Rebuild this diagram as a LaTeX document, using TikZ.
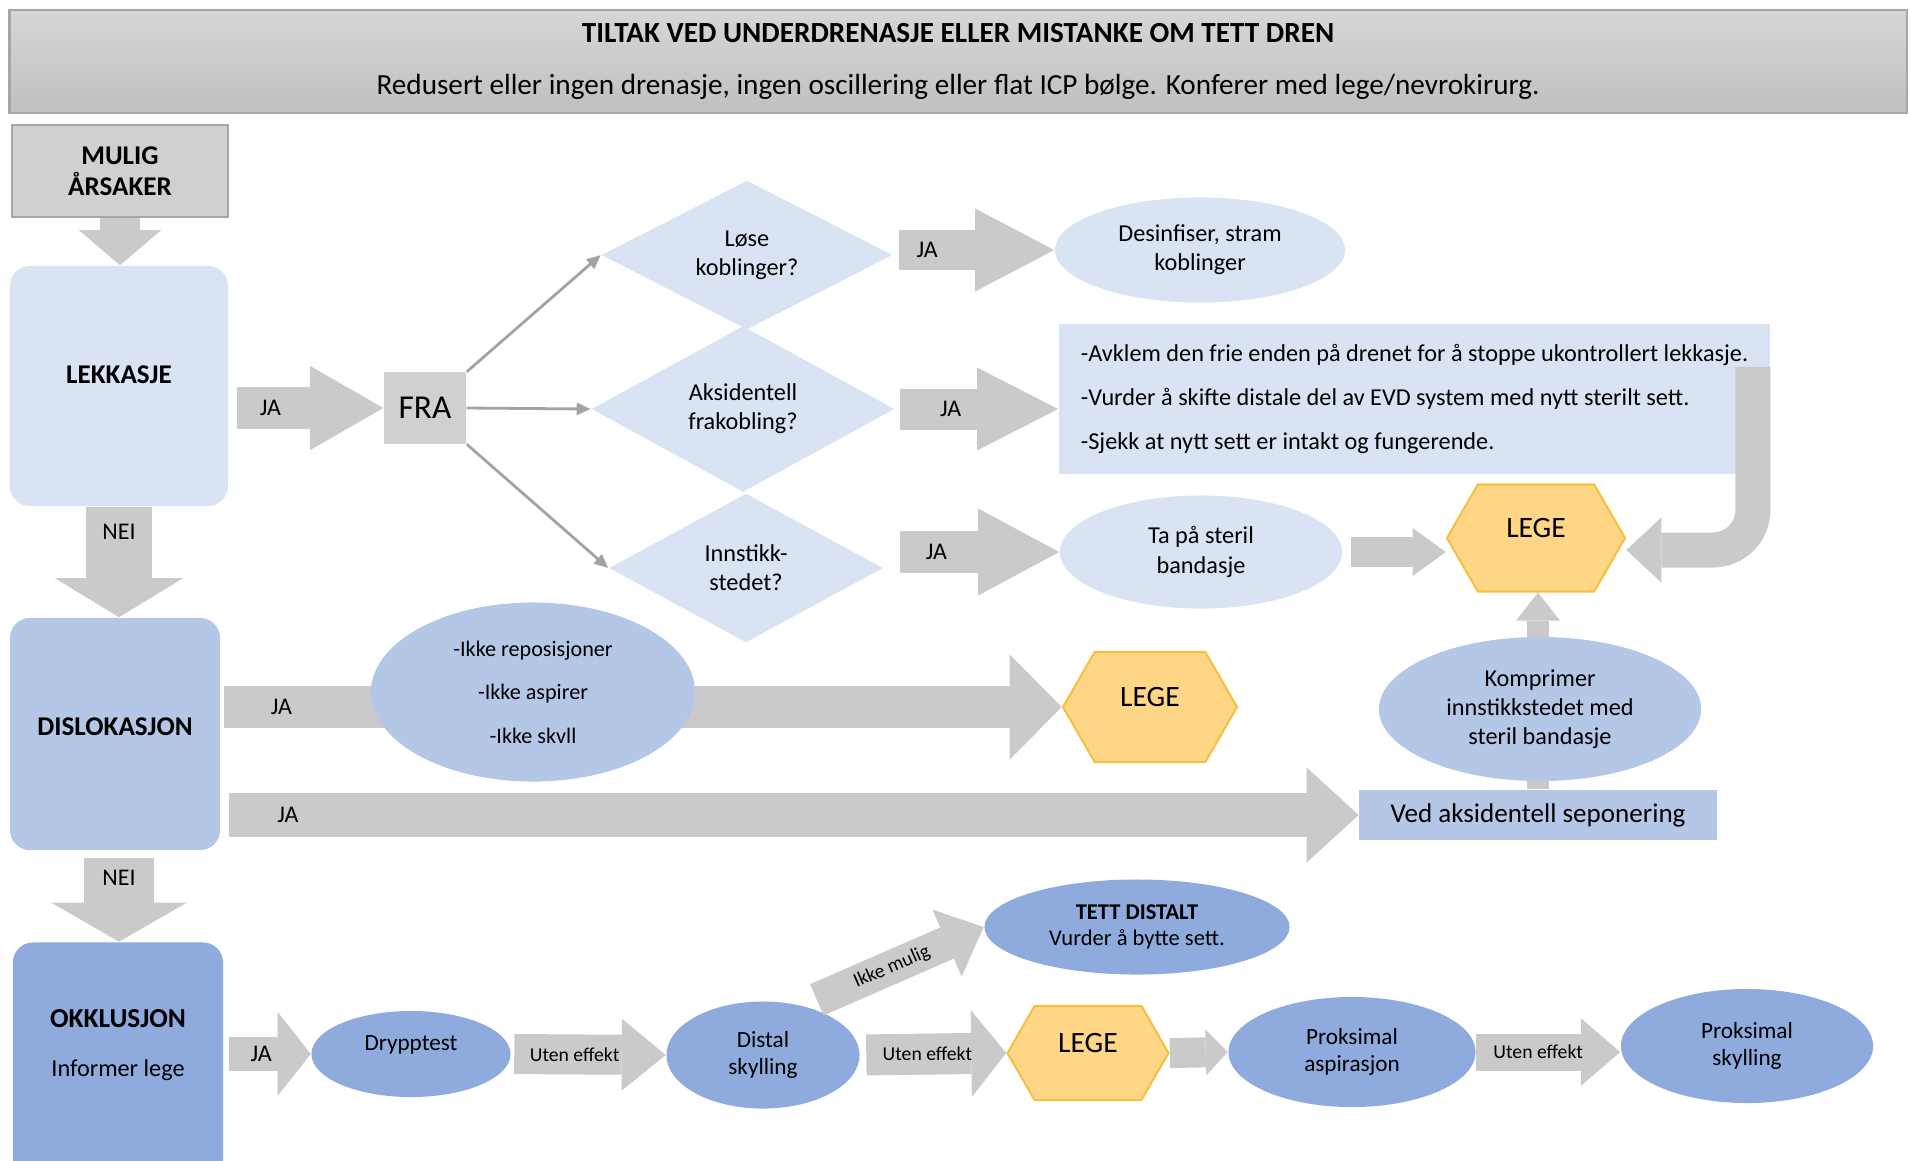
\documentclass[tikz,border=0pt]{standalone}
\usepackage{fontspec}
\setmainfont{Carlito}
\usetikzlibrary{shapes.geometric,shapes.symbols,arrows.meta}

\definecolor{lysbla}{HTML}{DAE3F3}
\definecolor{midbla}{HTML}{B4C7E7}
\definecolor{darkbla}{HTML}{8FAADC}
\definecolor{pilgra}{HTML}{CACACA}
\definecolor{boksgra}{HTML}{D0D0D0}
\definecolor{kantgra}{HTML}{A6A6A6}
\definecolor{tynngra}{HTML}{A3A3A3}
\definecolor{legefyll}{HTML}{FFD685}
\definecolor{legekant}{HTML}{F4C145}

\tikzset{
  txt/.style={font=\fontsize{6.9}{8.3}\selectfont, align=center},
  boldtxt/.style={font=\fontsize{7.7}{8.9}\selectfont\bfseries, align=center},
  jatxt/.style={font=\fontsize{6.8}{8}\selectfont},
  smalltxt/.style={font=\fontsize{5.6}{6.7}\selectfont},
  bottomtxt/.style={font=\fontsize{6.6}{7.6}\selectfont, align=center},
  graybox/.style={fill=boksgra, draw=kantgra, line width=0.6pt},
  causebox/.style={rounded corners=2mm, minimum width=21.4mm, boldtxt},
  decision/.style={diamond, aspect=2, fill=lysbla, txt},
  oval/.style={ellipse, txt},
  hexa/.style={signal, signal to=east and west, signal pointer angle=120, text depth=2mm,
    fill=legefyll, draw=legekant, line width=0.6pt, font=\fontsize{8.4}{10}\selectfont},
  bigarrow/.style n args={3}{draw=pilgra, line width=#1,
    -{Triangle[length=#2, width=#3, line width=0pt]}},
  thinarrow/.style={draw=tynngra, line width=0.8pt, -{Triangle[length=1.4mm, width=1.2mm]}}
}

\begin{document}
\begin{tikzpicture}[x=0.01cm, y=-0.01cm, every node/.style={inner sep=0pt, text=black}]
\useasboundingbox (0,0) rectangle (1910,1160);

% Header
\node[draw=kantgra, line width=0.6pt, top color={rgb,255:red,214;green,214;blue,214},
  bottom color={rgb,255:red,192;green,192;blue,192},
  minimum width=189.6mm, minimum height=10.3mm] (hode) at (958,61.5) {};
\node[font=\fontsize{8.3}{10}\selectfont\bfseries] (tittel) at (958,33) {TILTAK VED UNDERDRENASJE ELLER MISTANKE OM TETT DREN};
\node[font=\fontsize{8.3}{10}\selectfont] (undertittel) at (958,87) {Redusert eller ingen drenasje, ingen oscillering eller flat ICP bølge. Konferer med lege/nevrokirurg.};

% Causes
\node[graybox, boldtxt, minimum width=21.6mm, minimum height=9.2mm] (mulig) at (120,171) {MULIG\\ÅRSAKER};
\node[causebox, fill=lysbla, minimum width=21.8mm, minimum height=24mm, text depth=2.2mm] (lekkasje) at (119,386) {LEKKASJE};
\node[causebox, fill=midbla, minimum width=21mm, minimum height=23.2mm, text depth=1.4mm] (dislok) at (115,734) {DISLOKASJON};
\node[causebox, fill=darkbla, minimum width=21mm, minimum height=23.7mm] (okkl) at (118,1061) {};
\node[txt] (okkltekst) at (118,1045) {{\fontsize{7.8}{9}\selectfont\bfseries OKKLUSJON}\\[5.7pt]Informer lege};

% Leakage
\node[fill=boksgra, minimum width=8.2mm, minimum height=7.1mm, font=\fontsize{9.5}{11}\selectfont] (fra) at (425,408) {FRA};
\node[decision, minimum width=29.1mm, minimum height=14.9mm] (lose) at (747,255) {Løse\\koblinger?};
\node[decision, minimum width=30.3mm, minimum height=16.6mm] (aksid) at (743,409) {Aksidentell\\frakobling?};
\node[decision, minimum width=27.4mm, minimum height=14.9mm] (innstikk) at (746,568) {Innstikk-\\stedet?};
\node[oval, fill=lysbla, minimum width=29mm, minimum height=10.5mm] (desinf) at (1200,250) {Desinfiser, stram\\koblinger};
\node[fill=lysbla, minimum width=71.1mm, minimum height=15mm, txt, align=left] (tiltak) at (1414.5,399)
  {-Avklem den frie enden på drenet for å stoppe ukontrollert lekkasje.\\[4.2pt]-Vurder å skifte distale del av EVD system med nytt sterilt sett.\\[4.2pt]-Sjekk at nytt sett er intakt og fungerende.};
\node[oval, fill=lysbla, minimum width=28.2mm, minimum height=11.3mm] (steril) at (1201,552) {Ta på steril\\bandasje};
\node[hexa, minimum width=17.8mm, minimum height=10.7mm] (lege1) at (1536,538) {LEGE};

% Dislocation
\node[hexa, minimum width=17.4mm, minimum height=11mm] (lege2) at (1150,707) {LEGE};
\node[fill=midbla, minimum width=35.7mm, minimum height=5mm, font=\fontsize{7.7}{9}\selectfont] (seponering) at (1538,815) {Ved aksidentell seponering};

% Occlusion
\node[oval, bottomtxt, fill=darkbla, minimum width=19.9mm, minimum height=8.6mm, text depth=2.2mm] (drypp) at (411,1054) {Drypptest};
\node[oval, bottomtxt, fill=darkbla, minimum width=19.3mm, minimum height=10.7mm] (distal) at (763,1055) {Distal\\skylling};
\node[hexa, minimum width=16.1mm, minimum height=9.4mm] (lege3) at (1088,1053) {LEGE};
\node[oval, bottomtxt, fill=darkbla, minimum width=24.7mm, minimum height=11mm] (proxasp) at (1352,1052) {Proksimal\\aspirasjon};
\node[oval, bottomtxt, fill=darkbla, minimum width=25.2mm, minimum height=11.4mm] (proxskyl) at (1747,1046) {Proksimal\\skylling};
\node[oval, fill=darkbla, minimum width=30.5mm, minimum height=9.5mm, font=\fontsize{6.4}{7.6}\selectfont] (tett) at (1137,927) {\textbf{TETT DISTALT}\\Vurder å bytte sett.};

% Arrows
\draw[bigarrow={3.9mm}{3.5mm}{8.2mm}] (mulig.south) -- (mulig.south |- lekkasje.north);
\draw[bigarrow={4.2mm}{7.3mm}{8.4mm}, shorten <=0.8mm] (lekkasje.east |- fra.west) -- (fra.west) node[pos=0.27, jatxt] {JA};
\draw[thinarrow] (fra.north east) -- (lose.west);
\draw[thinarrow] (fra.east) -- (aksid.west);
\draw[thinarrow] (fra.south east) -- (innstikk.west);
\draw[bigarrow={4mm}{7.9mm}{8.3mm}, shorten <=0.6mm] (lose.east |- desinf.west) -- (desinf.west) node[pos=0.21, jatxt] {JA};
\draw[bigarrow={4.1mm}{8.1mm}{8.3mm}, shorten <=0.5mm] (aksid.east) -- (aksid.east -| tiltak.west) node[pos=0.34, jatxt] {JA};
\draw[bigarrow={4.2mm}{8.1mm}{8.7mm}, shorten <=1.6mm] (innstikk.east |- steril.west) -- (steril.west) node[pos=0.3, jatxt] {JA};
\draw[bigarrow={3mm}{3.3mm}{4.8mm}, shorten <=0.8mm] (steril.east) -- (steril.east -| lege1.west);
\draw[bigarrow={3.5mm}{3.5mm}{6.5mm}, rounded corners=4mm] ([xshift=-1.8mm, yshift=3.2mm]tiltak.east) |- ([yshift=-1.2mm]lege1.east);
\draw[bigarrow={2.2mm}{2.8mm}{4.4mm}] (seponering.north) -- (seponering.north |- lege1.south);
\draw[bigarrow={4.2mm}{5.2mm}{10.5mm}, shorten <=0.3mm] (dislok.east |- lege2.west) -- (lege2.west) node[pos=0.072, jatxt] {JA};
\draw[bigarrow={4.4mm}{5.2mm}{9.5mm}, shorten <=0.8mm] (dislok.east |- seponering.west) -- (seponering.west) node[pos=0.059, jatxt] {JA};
\draw[bigarrow={6.5mm}{3.9mm}{12.8mm}] (lekkasje.south) -- (lekkasje.south |- dislok.north) node[pos=0.23, jatxt] {NEI};
\draw[bigarrow={6.9mm}{3.9mm}{13.5mm}, shorten <=0.7mm] (lekkasje.south |- dislok.south) -- (lekkasje.south |- okkl.north) node[pos=0.3, jatxt] {NEI};
\draw[bigarrow={3.4mm}{3.3mm}{8.4mm}, shorten <=0.5mm] (okkl.east |- drypp.west) -- (drypp.west) node[pos=0.43, jatxt] {JA};
\draw[bigarrow={4mm}{4.4mm}{7.2mm}, shorten <=0.3mm] (drypp.east) -- (distal.west) node[pos=0.41, smalltxt] {Uten effekt};
\draw[bigarrow={4.1mm}{3.5mm}{8.7mm}, shorten <=0.6mm] (distal.east) -- (lege3.west) node[pos=0.46, smalltxt] {Uten effekt};
\draw[bigarrow={3mm}{2.2mm}{4.6mm}] (lege3.east) -- (proxasp.west);
\draw[bigarrow={3.7mm}{3.9mm}{6.7mm}] (proxasp.east) -- (proxasp.east -| proxskyl.west) node[pos=0.43, smalltxt] {Uten effekt};
\draw[bigarrow={3.4mm}{4mm}{7.3mm}] ([yshift=1mm]distal.40) -- (tett.west) node[pos=0.45, sloped, smalltxt] {Ikke mulig};

% Nodes on top of arrows
\node[oval, fill=midbla, minimum width=32.4mm, minimum height=17.9mm, font=\fontsize{6.3}{7.6}\selectfont] (ikkerep) at (533,692) {-Ikke reposisjoner\\[4.8pt]-Ikke aspirer\\[4.8pt]-Ikke skvll};
\node[oval, fill=midbla, minimum width=32.2mm, minimum height=14.4mm] (kompr) at (1540,709) {Komprimer\\innstikkstedet med\\steril bandasje};

\end{tikzpicture}
\end{document}
